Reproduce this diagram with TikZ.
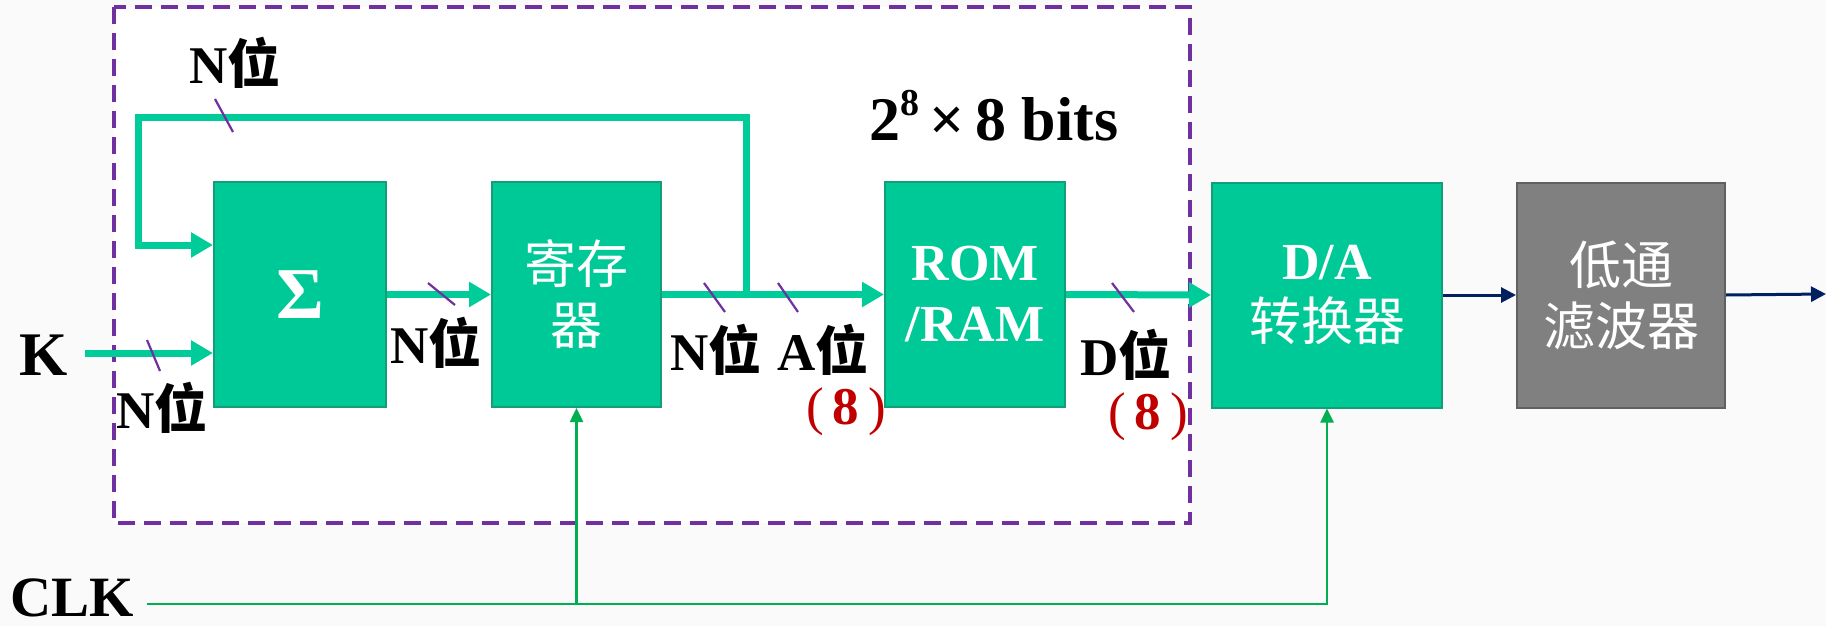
\documentclass[tikz,border=0pt]{standalone}
\usepackage{fontspec}
\setmainfont{Liberation Serif}
\newfontfamily\cjk{Noto Sans CJK SC}
\usetikzlibrary{arrows.meta}
\definecolor{boxgreen}{RGB}{0,201,152}
\definecolor{boxborder}{RGB}{20,158,120}
\definecolor{busgreen}{RGB}{0,204,153}
\definecolor{greyfill}{RGB}{128,128,128}
\definecolor{greyborder}{RGB}{96,96,96}
\definecolor{framepurple}{RGB}{112,48,160}
\definecolor{redtxt}{RGB}{192,0,0}
\definecolor{clkgreen}{RGB}{0,176,80}
\definecolor{navyline}{RGB}{0,32,96}
\definecolor{bgcol}{RGB}{250,250,250}
\tikzset{
  box/.style={draw=boxborder, line width=2pt, fill=boxgreen, text=white,
    minimum height=225pt, inner sep=0pt, align=center,
    font=\fontsize{52}{61}\selectfont\bfseries},
  greybox/.style={box, draw=greyborder, fill=greyfill},
  lbl/.style={inner sep=0pt, font=\fontsize{53}{60}\selectfont\bfseries},
  bus/.style={draw=busgreen, line width=7pt, line join=miter,
    -{Triangle[length=22pt,width=24pt]}},
  clkline/.style={draw=clkgreen, line width=2.5pt},
  clkarrow/.style={clkline, -{Triangle[length=14pt,width=13pt]}},
  navyarrow/.style={draw=navyline, line width=3pt, -{Triangle[length=15pt,width=15pt]}},
  slash/.style={draw=framepurple, line width=2.2pt},
  frame/.style={draw=framepurple, line width=4pt, dash pattern=on 17pt off 9pt, fill=white}
}
\newcommand{\zh}[1]{{\cjk\mdseries #1}}
\begin{document}
\begin{tikzpicture}[x=1pt,y=-1pt]
\fill[bgcol] (0,0) rectangle (1826,626);
\useasboundingbox (0,0) rectangle (1826,626);
% frame
\draw[frame] (114,7) rectangle (1190,523);
% blocks
\node[box, minimum width=172pt, font=\fontsize{73}{73}\selectfont\bfseries] (sum) at (300,294.5) {Σ};
\node[box, minimum width=169pt] (reg) at (576.5,294.5) {\zh{寄存}\\\zh{器}};
\node[box, minimum width=180pt] (rom) at (975,294.5) {ROM\\/RAM};
\node[box, minimum width=230pt] (da) at (1327,295) {D/A\\\zh{转换器}};
\node[greybox, minimum width=208pt] (lpf) at (1621,295) {\zh{低通}\\\zh{滤波器}};
% coordinates
\coordinate (kstart) at (85,353);
\coordinate (fbj) at (746,295);
\coordinate (fbl) at (138,117);
\coordinate (fbin) at (138,245);
\coordinate (clkstart) at (147,604);
\coordinate (out) at (1826,294);
% connectors
\draw[bus] (kstart) -- (sum.west |- kstart);
\draw[bus] (fbj) |- (fbl) -- (fbin) -- (sum.west |- fbin);
\draw[bus] (sum.east) -- (reg.west);
\draw[bus] (reg.east) -- (rom.west);
\draw[bus] (rom.east) -- (da.west);
\draw[navyarrow] (da.east) -- (lpf.west);
\draw[navyarrow] (lpf.east) -- (out);
\draw[clkarrow] (clkstart) -| (da.south);
\draw[clkarrow] (reg.south |- clkstart) -- (reg.south);
% bus width marks
\draw[slash] (215,99) -- (233,132);
\draw[slash] (147,340) -- (160,371);
\draw[slash] (428,283) -- (455,305);
\draw[slash] (704,283) -- (725,312);
\draw[slash] (778,283) -- (798,312);
\draw[slash] (1112,283) -- (1134,312);
% labels
\node[lbl, font=\fontsize{62}{62}\selectfont\bfseries] (k) at (44,355) {K};
\node[lbl, font=\fontsize{57}{57}\selectfont\bfseries] (clk) at (72,598) {CLK};
\node[lbl] (ntop) at (235,63) {N{\cjk 位}};
\node[lbl] (nk) at (162,408) {N{\cjk 位}};
\node[lbl] (nsum) at (436,343) {N{\cjk 位}};
\node[lbl] (nreg) at (716,350) {N{\cjk 位}};
\node[lbl] (abits) at (823,350) {A{\cjk 位}};
\node[lbl] (dbits) at (1126,355) {D{\cjk 位}};
\node[lbl, text=redtxt] (a8) at (846,412) {{\mdseries(}\,8\,{\mdseries)}};
\node[lbl, text=redtxt] (d8) at (1148,417) {{\mdseries(}\,8\,{\mdseries)}};
\node[lbl, font=\fontsize{62}{62}\selectfont\bfseries] (size) at (994,116)
  {2\raisebox{0.4em}{\fontsize{38}{38}\selectfont 8}\,×\,8 bits};
\end{tikzpicture}
\end{document}
